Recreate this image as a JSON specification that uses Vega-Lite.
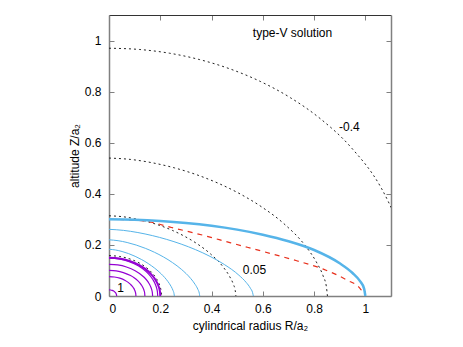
{
  "$schema": "https://vega.github.io/schema/vega-lite/v6.json",
  "width": 282,
  "height": 281,
  "autosize": "none",
  "padding": {"left": 109, "top": 15, "right": 72, "bottom": 51},
  "background": "white",
  "config": {
    "view": {"stroke": null},
    "axis": {"domainColor": "#808080", "domainWidth": 1.5, "tickColor": "#808080", "tickWidth": 1, "tickSize": -5, "labelFont": "Liberation Sans", "labelFontSize": 12, "labelColor": "#000", "titleFont": "Liberation Sans", "titleFontSize": 12, "titleFontWeight": "normal", "titleColor": "#000", "grid": false, "labelPadding": 7}
  },
  "datasets": {
    "curves": [
      {"g":"dot","c":"d1","x":0,"y":0.97},{"g":"dot","c":"d1","x":0.118,"y":0.9651},{"g":"dot","c":"d1","x":0.236,"y":0.9504},{"g":"dot","c":"d1","x":0.354,"y":0.9253},{"g":"dot","c":"d1","x":0.472,"y":0.889},{"g":"dot","c":"d1","x":0.59,"y":0.84},{"g":"dot","c":"d1","x":0.708,"y":0.776},{"g":"dot","c":"d1","x":0.826,"y":0.6927},{"g":"dot","c":"d1","x":0.944,"y":0.582},{"g":"dot","c":"d1","x":1.062,"y":0.4228},{"g":"dot","c":"d1","x":1.121,"y":0.3028},
      {"g":"dot","c":"d2","x":0,"y":0.54},{"g":"dot","c":"d2","x":0.085,"y":0.5345},{"g":"dot","c":"d2","x":0.17,"y":0.5213},{"g":"dot","c":"d2","x":0.256,"y":0.5014},{"g":"dot","c":"d2","x":0.341,"y":0.475},{"g":"dot","c":"d2","x":0.426,"y":0.4414},{"g":"dot","c":"d2","x":0.511,"y":0.3998},{"g":"dot","c":"d2","x":0.596,"y":0.3484},{"g":"dot","c":"d2","x":0.682,"y":0.2833},{"g":"dot","c":"d2","x":0.767,"y":0.1951},{"g":"dot","c":"d2","x":0.809,"y":0.1327},{"g":"dot","c":"d2","x":0.835,"y":0.0791},{"g":"dot","c":"d2","x":0.848,"y":0.036},{"g":"dot","c":"d2","x":0.852,"y":0},
      {"g":"dot","c":"d3","x":0,"y":0.314},{"g":"dot","c":"d3","x":0.0495,"y":0.3108},{"g":"dot","c":"d3","x":0.099,"y":0.3031},{"g":"dot","c":"d3","x":0.1485,"y":0.2916},{"g":"dot","c":"d3","x":0.198,"y":0.2762},{"g":"dot","c":"d3","x":0.2475,"y":0.2567},{"g":"dot","c":"d3","x":0.297,"y":0.2325},{"g":"dot","c":"d3","x":0.3465,"y":0.2026},{"g":"dot","c":"d3","x":0.396,"y":0.1647},{"g":"dot","c":"d3","x":0.4455,"y":0.1134},{"g":"dot","c":"d3","x":0.47,"y":0.0772},{"g":"dot","c":"d3","x":0.485,"y":0.046},{"g":"dot","c":"d3","x":0.4925,"y":0.0209},{"g":"dot","c":"d3","x":0.495,"y":0},
      {"g":"dot","c":"d4","x":0,"y":0.158},{"g":"dot","c":"d4","x":0.041,"y":0.1548},{"g":"dot","c":"d4","x":0.082,"y":0.1448},{"g":"dot","c":"d4","x":0.123,"y":0.1264},{"g":"dot","c":"d4","x":0.1435,"y":0.1128},{"g":"dot","c":"d4","x":0.164,"y":0.0948},{"g":"dot","c":"d4","x":0.1845,"y":0.0689},{"g":"dot","c":"d4","x":0.1948,"y":0.0493},{"g":"dot","c":"d4","x":0.2009,"y":0.0314},{"g":"dot","c":"d4","x":0.204,"y":0.0158},{"g":"dot","c":"d4","x":0.205,"y":0},
      {"g":"tb","c":"b1","x":0,"y":0.261},{"g":"tb","c":"b1","x":0.0563,"y":0.2569},{"g":"tb","c":"b1","x":0.1126,"y":0.2484},{"g":"tb","c":"b1","x":0.1689,"y":0.2365},{"g":"tb","c":"b1","x":0.2252,"y":0.2215},{"g":"tb","c":"b1","x":0.2815,"y":0.2032},{"g":"tb","c":"b1","x":0.3378,"y":0.1813},{"g":"tb","c":"b1","x":0.3941,"y":0.1551},{"g":"tb","c":"b1","x":0.4504,"y":0.123},{"g":"tb","c":"b1","x":0.5067,"y":0.0814},{"g":"tb","c":"b1","x":0.5349,"y":0.0533},{"g":"tb","c":"b1","x":0.5517,"y":0.0302},{"g":"tb","c":"b1","x":0.5602,"y":0.0128},{"g":"tb","c":"b1","x":0.563,"y":0},
      {"g":"tb","c":"b2","x":0,"y":0.22},{"g":"tb","c":"b2","x":0.0354,"y":0.2165},{"g":"tb","c":"b2","x":0.0708,"y":0.2094},{"g":"tb","c":"b2","x":0.1062,"y":0.1994},{"g":"tb","c":"b2","x":0.1416,"y":0.1867},{"g":"tb","c":"b2","x":0.177,"y":0.1713},{"g":"tb","c":"b2","x":0.2124,"y":0.1529},{"g":"tb","c":"b2","x":0.2478,"y":0.1307},{"g":"tb","c":"b2","x":0.2832,"y":0.1037},{"g":"tb","c":"b2","x":0.3186,"y":0.0686},{"g":"tb","c":"b2","x":0.3363,"y":0.0449},{"g":"tb","c":"b2","x":0.3469,"y":0.0255},{"g":"tb","c":"b2","x":0.3522,"y":0.0108},{"g":"tb","c":"b2","x":0.354,"y":0},
      {"g":"tb","c":"b3","x":0,"y":0.183},{"g":"tb","c":"b3","x":0.0255,"y":0.1801},{"g":"tb","c":"b3","x":0.051,"y":0.1742},{"g":"tb","c":"b3","x":0.0765,"y":0.1659},{"g":"tb","c":"b3","x":0.102,"y":0.1553},{"g":"tb","c":"b3","x":0.1275,"y":0.1425},{"g":"tb","c":"b3","x":0.153,"y":0.1271},{"g":"tb","c":"b3","x":0.1785,"y":0.1087},{"g":"tb","c":"b3","x":0.204,"y":0.0863},{"g":"tb","c":"b3","x":0.2295,"y":0.0571},{"g":"tb","c":"b3","x":0.2423,"y":0.0374},{"g":"tb","c":"b3","x":0.2499,"y":0.0212},{"g":"tb","c":"b3","x":0.2537,"y":0.0089},{"g":"tb","c":"b3","x":0.255,"y":0},
      {"g":"TB","c":"B","x":0,"y":0.3},{"g":"TB","c":"B","x":0.1,"y":0.2985},{"g":"TB","c":"B","x":0.2,"y":0.2939},{"g":"TB","c":"B","x":0.3,"y":0.2862},{"g":"TB","c":"B","x":0.4,"y":0.275},{"g":"TB","c":"B","x":0.5,"y":0.2598},{"g":"TB","c":"B","x":0.6,"y":0.24},{"g":"TB","c":"B","x":0.7,"y":0.2142},{"g":"TB","c":"B","x":0.8,"y":0.18},{"g":"TB","c":"B","x":0.9,"y":0.128},{"g":"TB","c":"B","x":0.95,"y":0.09},{"g":"TB","c":"B","x":0.98,"y":0.057},{"g":"TB","c":"B","x":0.995,"y":0.029},{"g":"TB","c":"B","x":1,"y":0},
      {"g":"red","c":"r","x":0,"y":0.3},{"g":"red","c":"r","x":0.08,"y":0.298},{"g":"red","c":"r","x":0.153,"y":0.291},{"g":"red","c":"r","x":0.244,"y":0.268},{"g":"red","c":"r","x":0.374,"y":0.236},{"g":"red","c":"r","x":0.475,"y":0.208},{"g":"red","c":"r","x":0.602,"y":0.174},{"g":"red","c":"r","x":0.732,"y":0.138},{"g":"red","c":"r","x":0.836,"y":0.105},{"g":"red","c":"r","x":0.927,"y":0.063},{"g":"red","c":"r","x":0.979,"y":0.03},{"g":"red","c":"r","x":1,"y":0},
      {"g":"PT","c":"p1","x":0,"y":0.15},{"g":"PT","c":"p1","x":0.04,"y":0.147},{"g":"PT","c":"p1","x":0.08,"y":0.1375},{"g":"PT","c":"p1","x":0.12,"y":0.12},{"g":"PT","c":"p1","x":0.14,"y":0.1071},{"g":"PT","c":"p1","x":0.16,"y":0.09},{"g":"PT","c":"p1","x":0.18,"y":0.0654},{"g":"PT","c":"p1","x":0.19,"y":0.0468},{"g":"PT","c":"p1","x":0.196,"y":0.0299},{"g":"PT","c":"p1","x":0.199,"y":0.015},{"g":"PT","c":"p1","x":0.2,"y":0},
      {"g":"pt","c":"p2","x":0,"y":0.148},{"g":"pt","c":"p2","x":0.038,"y":0.145},{"g":"pt","c":"p2","x":0.076,"y":0.1356},{"g":"pt","c":"p2","x":0.114,"y":0.1184},{"g":"pt","c":"p2","x":0.133,"y":0.1057},{"g":"pt","c":"p2","x":0.152,"y":0.0888},{"g":"pt","c":"p2","x":0.171,"y":0.0645},{"g":"pt","c":"p2","x":0.1805,"y":0.0462},{"g":"pt","c":"p2","x":0.1862,"y":0.0295},{"g":"pt","c":"p2","x":0.189,"y":0.0148},{"g":"pt","c":"p2","x":0.19,"y":0},
      {"g":"pt","c":"p3","x":0,"y":0.124},{"g":"pt","c":"p3","x":0.034,"y":0.1215},{"g":"pt","c":"p3","x":0.068,"y":0.1136},{"g":"pt","c":"p3","x":0.102,"y":0.0992},{"g":"pt","c":"p3","x":0.119,"y":0.0885},{"g":"pt","c":"p3","x":0.136,"y":0.0744},{"g":"pt","c":"p3","x":0.153,"y":0.0541},{"g":"pt","c":"p3","x":0.1615,"y":0.0387},{"g":"pt","c":"p3","x":0.1666,"y":0.0247},{"g":"pt","c":"p3","x":0.1692,"y":0.0124},{"g":"pt","c":"p3","x":0.17,"y":0},
      {"g":"pt","c":"p4","x":0,"y":0.1},{"g":"pt","c":"p4","x":0.028,"y":0.098},{"g":"pt","c":"p4","x":0.056,"y":0.0917},{"g":"pt","c":"p4","x":0.084,"y":0.08},{"g":"pt","c":"p4","x":0.098,"y":0.0714},{"g":"pt","c":"p4","x":0.112,"y":0.06},{"g":"pt","c":"p4","x":0.126,"y":0.0436},{"g":"pt","c":"p4","x":0.133,"y":0.0312},{"g":"pt","c":"p4","x":0.1372,"y":0.0199},{"g":"pt","c":"p4","x":0.1393,"y":0.01},{"g":"pt","c":"p4","x":0.14,"y":0},
      {"g":"pt","c":"p5","x":0,"y":0.076},{"g":"pt","c":"p5","x":0.021,"y":0.0745},{"g":"pt","c":"p5","x":0.042,"y":0.0697},{"g":"pt","c":"p5","x":0.063,"y":0.0608},{"g":"pt","c":"p5","x":0.0735,"y":0.0543},{"g":"pt","c":"p5","x":0.084,"y":0.0456},{"g":"pt","c":"p5","x":0.0945,"y":0.0331},{"g":"pt","c":"p5","x":0.0998,"y":0.0237},{"g":"pt","c":"p5","x":0.1029,"y":0.0151},{"g":"pt","c":"p5","x":0.1045,"y":0.0076},{"g":"pt","c":"p5","x":0.105,"y":0},
      {"g":"pt","c":"p6","x":0,"y":0.024},{"g":"pt","c":"p6","x":0.006,"y":0.0235},{"g":"pt","c":"p6","x":0.012,"y":0.022},{"g":"pt","c":"p6","x":0.018,"y":0.0192},{"g":"pt","c":"p6","x":0.024,"y":0.0144},{"g":"pt","c":"p6","x":0.027,"y":0.0105},{"g":"pt","c":"p6","x":0.0294,"y":0.0048},{"g":"pt","c":"p6","x":0.03,"y":0}
    ],
    "labels": [
      {"x": 0.561, "y": 1.03, "t": "type-V solution"},
      {"x": 0.897, "y": 0.663, "t": "-0.4"},
      {"x": 0.522, "y": 0.102, "t": "0.05"},
      {"x": 0.032, "y": 0.03, "t": "1"}
    ]
  },
  "resolve": {"axis": {"x": "independent", "y": "independent"}},
  "layer": [
    {
      "data": {"name": "curves"},
      "transform": [{"filter": "datum.g == 'dot'"}],
      "mark": {"type": "line", "color": "#222222", "strokeWidth": 1, "strokeDash": [2, 3], "interpolate": "monotone", "clip": true},
      "encoding": {
        "x": {"field": "x", "type": "quantitative", "scale": {"domain": [0, 1.1], "nice": false}, "axis": {"orient": "bottom", "values": [0, 0.2, 0.4, 0.6, 0.8, 1], "format": "~g", "title": "cylindrical radius R/a₂", "titlePadding": 6, "labelPadding": 12}},
        "y": {"field": "y", "type": "quantitative", "scale": {"domain": [0, 1.1], "nice": false}, "axis": {"orient": "left", "values": [0, 0.2, 0.4, 0.6, 0.8, 1], "format": "~g", "title": "altitude Z/a₂", "titlePadding": 3, "labelPadding": 13}},
        "detail": {"field": "c"}
      }
    },
    {
      "data": {"name": "curves"},
      "transform": [{"filter": "datum.g == 'tb'"}],
      "mark": {"type": "line", "color": "#56b4e9", "strokeWidth": 1, "interpolate": "monotone", "clip": true},
      "encoding": {
        "x": {"field": "x", "type": "quantitative", "axis": {"orient": "top", "values": [0, 0.2, 0.4, 0.6, 0.8, 1], "labels": false, "title": null, "domainColor": "#333333", "domainWidth": 1}},
        "y": {"field": "y", "type": "quantitative", "axis": {"orient": "right", "values": [0, 0.2, 0.4, 0.6, 0.8, 1], "labels": false, "title": null}},
        "detail": {"field": "c"}
      }
    },
    {
      "data": {"name": "curves"},
      "transform": [{"filter": "datum.g == 'red'"}],
      "mark": {"type": "line", "color": "#e8301c", "strokeWidth": 1.2, "strokeDash": [5, 5], "interpolate": "monotone", "clip": true},
      "encoding": {
        "x": {"field": "x", "type": "quantitative", "axis": null},
        "y": {"field": "y", "type": "quantitative", "axis": null},
        "detail": {"field": "c"}
      }
    },
    {
      "data": {"name": "curves"},
      "transform": [{"filter": "datum.g == 'TB'"}],
      "mark": {"type": "line", "color": "#56b4e9", "strokeWidth": 2.5, "interpolate": "monotone", "clip": true},
      "encoding": {
        "x": {"field": "x", "type": "quantitative", "axis": null},
        "y": {"field": "y", "type": "quantitative", "axis": null},
        "detail": {"field": "c"}
      }
    },
    {
      "data": {"name": "curves"},
      "transform": [{"filter": "datum.g == 'pt'"}],
      "mark": {"type": "line", "color": "#9400d3", "strokeWidth": 1.2, "interpolate": "monotone", "clip": true},
      "encoding": {
        "x": {"field": "x", "type": "quantitative", "axis": null},
        "y": {"field": "y", "type": "quantitative", "axis": null},
        "detail": {"field": "c"}
      }
    },
    {
      "data": {"name": "curves"},
      "transform": [{"filter": "datum.g == 'PT'"}],
      "mark": {"type": "line", "color": "#9400d3", "strokeWidth": 2, "interpolate": "monotone", "clip": true},
      "encoding": {
        "x": {"field": "x", "type": "quantitative", "axis": null},
        "y": {"field": "y", "type": "quantitative", "axis": null},
        "detail": {"field": "c"}
      }
    },
    {
      "data": {"name": "labels"},
      "mark": {"type": "text", "align": "left", "baseline": "middle", "font": "Liberation Sans", "fontSize": 12, "color": "#000"},
      "encoding": {
        "x": {"field": "x", "type": "quantitative", "axis": null},
        "y": {"field": "y", "type": "quantitative", "axis": null},
        "text": {"field": "t"}
      }
    }
  ]
}
